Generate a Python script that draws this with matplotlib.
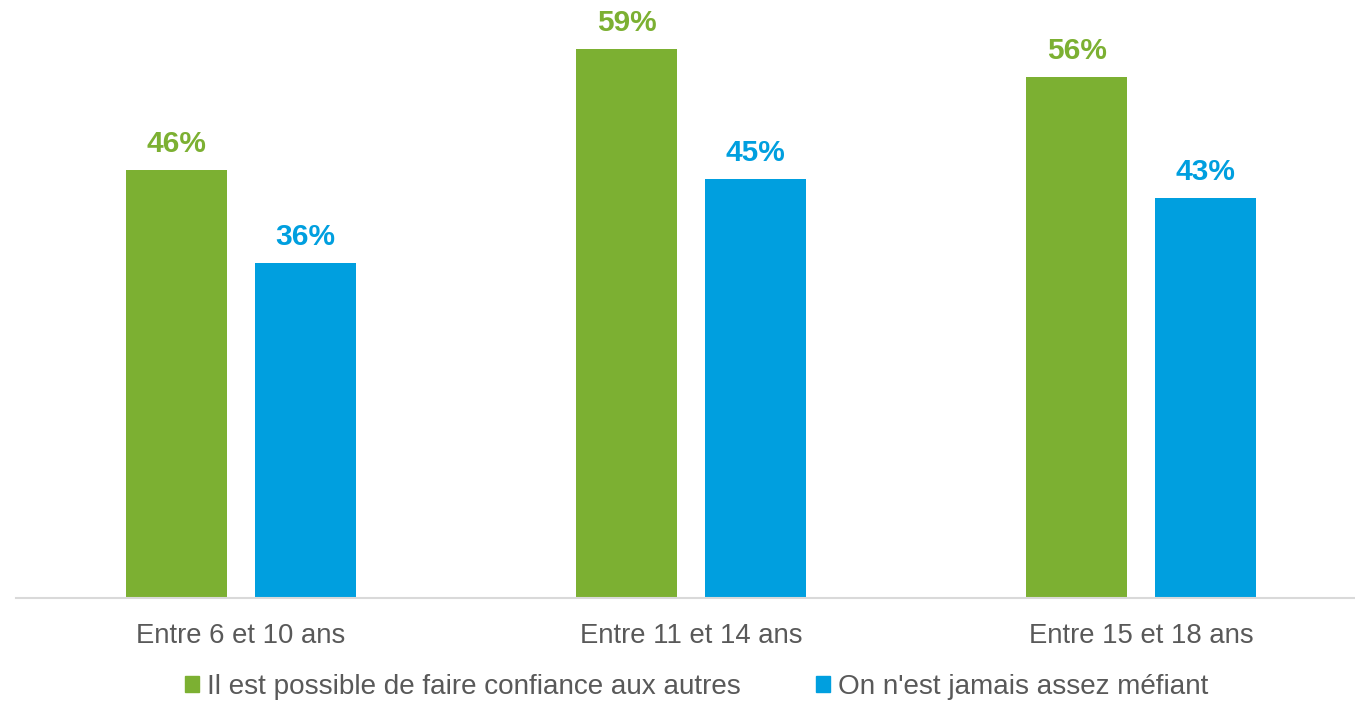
import numpy as np
import matplotlib.pyplot as plt
from matplotlib.patches import Patch

categories = ['Entre 6 et 10 ans', 'Entre 11 et 14 ans', 'Entre 15 et 18 ans']
series_names = ['Il est possible de faire confiance aux autres',
                "On n'est jamais assez méfiant"]
confiance = [46, 59, 56]
mefiant = [36, 45, 43]

green = '#7CB032'
blue = '#009FDF'
grey = '#595959'

plt.rcParams['font.family'] = ['Liberation Sans', 'DejaVu Sans']

fig = plt.figure(figsize=(13.55, 7.02), dpi=100)
ax = fig.add_axes([16 / 1355, 1 - 598 / 702, 1 - 16 / 1355, 598 / 702])

x = np.arange(len(categories))
w = 0.224
off = 0.143
b1 = ax.bar(x - off, confiance, w, color=green)
b2 = ax.bar(x + off, mefiant, w, color=blue)

for bars, vals, c in [(b1, confiance, green), (b2, mefiant, blue)]:
    for r, v in zip(bars, vals):
        ax.annotate(f'{v}%', (r.get_x() + r.get_width() / 2, v),
                    xytext=(0, 12), textcoords='offset pixels',
                    ha='center', va='bottom', fontsize=21.5,
                    fontweight='bold', color=c)

ax.set_xlim(-0.5, 2.4756)
ax.set_ylim(0, 64.3)
ax.set_yticks([])
ax.set_xticks(x)
ax.set_xticklabels(categories, fontsize=19.8, color=grey)
ax.tick_params(axis='x', length=0, pad=18)
for s in ['top', 'right', 'left']:
    ax.spines[s].set_visible(False)
ax.spines['bottom'].set_color('#D9D9D9')
ax.spines['bottom'].set_linewidth(1.5)

handles = [Patch(color=green), Patch(color=blue)]
fig.legend(handles, series_names, loc='center', bbox_to_anchor=(0.5142, 1 - 687 / 702),
           ncol=2, frameon=False, fontsize=20.1, labelcolor=grey,
           handlelength=0.5, handleheight=0.5, handletextpad=0.3,
           columnspacing=2.7)

fig.savefig('out.png', dpi=100)
